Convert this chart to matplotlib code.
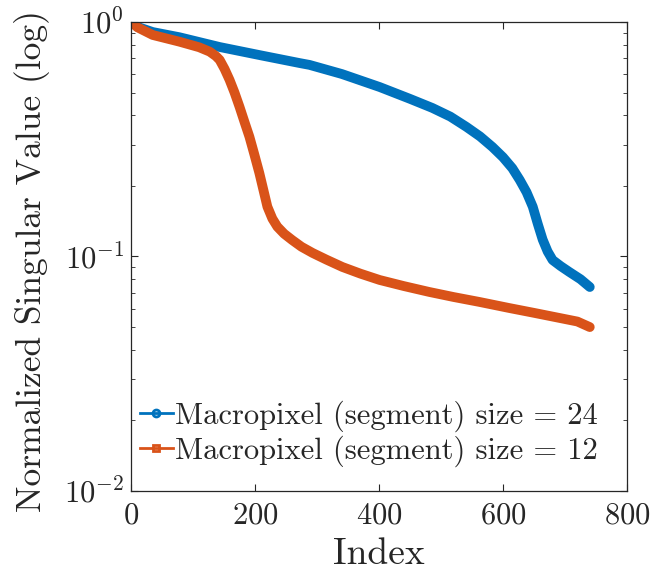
import matplotlib
matplotlib.use("Agg")
import matplotlib.pyplot as plt
from matplotlib.lines import Line2D
from matplotlib.ticker import LogLocator, FixedLocator, NullFormatter

plt.rcParams['font.family'] = ['cmr10', 'DejaVu Serif']
plt.rcParams['mathtext.fontset'] = 'cm'
plt.rcParams['axes.unicode_minus'] = False
plt.rcParams['axes.formatter.use_mathtext'] = True

# Series: size = 24 (blue)
idx24 = [1, 12, 35, 78, 143, 210, 272, 288, 340, 401, 450, 486, 515, 541, 563, 583, 600, 615, 627, 638, 648, 656, 664, 672, 680, 693, 707, 725, 740]
sv24 = [1.0, 0.95, 0.906, 0.861, 0.782, 0.72, 0.668, 0.656, 0.60, 0.528, 0.47, 0.430, 0.395, 0.357, 0.325, 0.293, 0.265, 0.238, 0.212, 0.188, 0.163, 0.138, 0.118, 0.105, 0.0966, 0.091, 0.0859, 0.080, 0.0741]

# Series: size = 12 (orange)
idx12 = [1, 10, 35, 78, 110, 127, 137, 143, 151, 159, 167, 175, 183, 191, 199, 207, 214, 220, 228, 236, 247, 260, 275, 293, 315, 341, 370, 401, 440, 481, 520, 562, 610, 650, 691, 720, 740]
sv12 = [1.0, 0.95, 0.88, 0.824, 0.78, 0.747, 0.715, 0.689, 0.63, 0.566, 0.50, 0.435, 0.375, 0.324, 0.272, 0.227, 0.190, 0.163, 0.145, 0.134, 0.125, 0.1175, 0.110, 0.1035, 0.097, 0.0902, 0.0845, 0.0794, 0.0748, 0.0706, 0.0672, 0.064, 0.0603, 0.0575, 0.0547, 0.0528, 0.050]

labels = ["Macropixel (segment) size = 24", "Macropixel (segment) size = 12"]
c_blue = "#0072BD"
c_orange = "#D95319"
xticks = [0, 200, 400, 600, 800]

fig = plt.figure(figsize=(6.54, 5.78), dpi=100)
ax = fig.add_axes([0.2003, 0.1505, 0.9587 - 0.2003, 0.962 - 0.1505])

ax.plot(idx24, sv24, color=c_blue, lw=7, solid_capstyle='round', solid_joinstyle='round')
ax.plot(idx12, sv12, color=c_orange, lw=7, solid_capstyle='round', solid_joinstyle='round')

ax.set_yscale('log')
ax.set_xlim(0, 800)
ax.set_ylim(1e-2, 1e0)
ax.xaxis.set_major_locator(FixedLocator(xticks))
ax.yaxis.set_major_locator(LogLocator(base=10, numticks=5))
ax.yaxis.set_minor_locator(LogLocator(base=10, subs=range(2, 10), numticks=20))
ax.yaxis.set_minor_formatter(NullFormatter())

edge = "#262626"
for s in ax.spines.values():
    s.set_color(edge)
    s.set_linewidth(0.9)
ax.tick_params(which='both', direction='in', top=True, right=True, colors=edge, labelcolor='#262626')
ax.tick_params(which='major', length=5, width=0.8, labelsize=22, pad=5)
ax.tick_params(axis='x', which='major', pad=8)
ax.tick_params(which='minor', length=3, width=0.6)

ax.set_xlabel("Index", fontsize=27, color='#262626', labelpad=6)
ax.set_ylabel("Normalized Singular Value (log)", fontsize=25.5, color='#262626')
ax.yaxis.set_label_coords(-0.163, 0.49)

handles = [
    Line2D([], [], color=c_blue, lw=2, marker='o', markersize=5, markerfacecolor='none', markeredgewidth=2),
    Line2D([], [], color=c_orange, lw=2, marker='s', markersize=5, markerfacecolor='none', markeredgewidth=2),
]
leg = ax.legend(handles, labels, loc='center left', frameon=False, fontsize=22,
                handlelength=1.08, handletextpad=0.07, borderaxespad=0, borderpad=0,
                labelspacing=0.1, bbox_to_anchor=(0.018, 0.1226))
for t in leg.get_texts():
    t.set_color('#262626')

fig.savefig("out.png", dpi=100)
